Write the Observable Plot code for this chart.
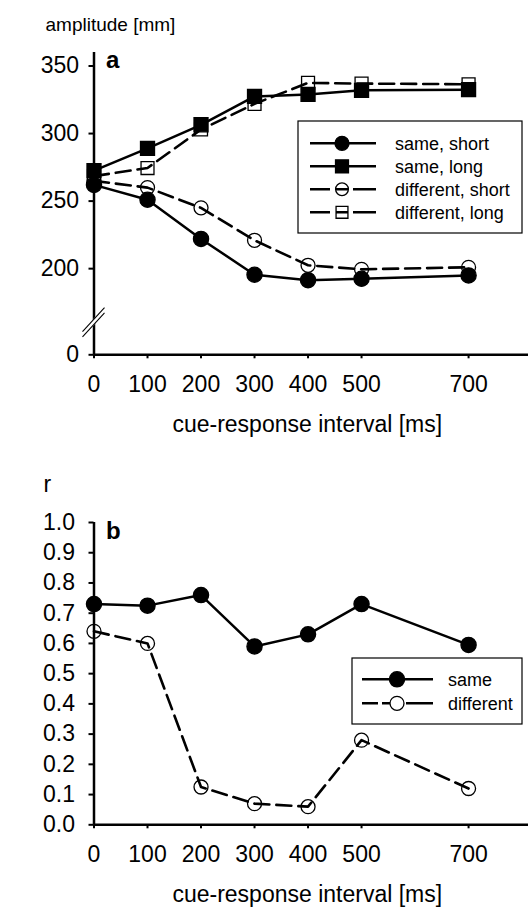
<!DOCTYPE html>
<html><head><meta charset="utf-8">
<script src="https://cdn.jsdelivr.net/npm/d3@7"></script>
<script src="https://cdn.jsdelivr.net/npm/@observablehq/plot@0.6"></script>
<style>
body{margin:0;background:#fff;}
#chart svg{display:block;}
</style>
</head><body><div id="chart"></div>
<script>
// ---- data ----
const intervals = [0, 100, 200, 300, 400, 500, 700];
const ampSameShort = [262, 251, 222, 195.5, 191.5, 192.5, 195];
const ampSameLong  = [272.5, 289, 306.5, 327.5, 329, 332, 332.5];
const ampDiffShort = [265, 260, 245, 221, 202.5, 199.5, 201];
const ampDiffLong  = [268.5, 274.5, 303, 322, 337.5, 337, 336.5];
const rSame = [0.73, 0.725, 0.76, 0.59, 0.63, 0.73, 0.595];
const rDiff = [0.64, 0.60, 0.125, 0.07, 0.06, 0.28, 0.12];
const ampTicks = [0, 200, 250, 300, 350];
const rTicks = [0, 0.1, 0.2, 0.3, 0.4, 0.5, 0.6, 0.7, 0.8, 0.9, 1.0];
const legendA = ["same, short", "same, long", "different, short", "different, long"];
const legendB = ["same", "different"];
const ampBreakValue = 160;

const FONT = "'Liberation Sans', Arial, Helvetica, sans-serif";
const rows = (vals) => intervals.map((x, i) => ({x, y: vals[i]}));
const DASH = "15,7";

function sym(type, r) { return d3.symbol(type === "square" ? d3.symbolSquare : d3.symbolCircle, Math.PI * r * r)(); }

function legendMark(items, styles, box, L) {
  return () => {
    const g = d3.create("svg:g");
    g.append("rect").attr("x", box.x).attr("y", box.y).attr("width", box.w).attr("height", box.h)
      .attr("fill", "white").attr("stroke", "black").attr("stroke-width", 1.2);
    items.forEach((label, i) => {
      const s = styles[i];
      const cy = L.y0 + i * L.dy;
      g.append("line").attr("x1", L.x1).attr("x2", L.x2).attr("y1", cy).attr("y2", cy)
        .attr("stroke", "black").attr("stroke-width", 2.6)
        .attr("stroke-dasharray", s.dashed ? L.dash : null);
      g.append("path").attr("d", sym(s.symbol, s.r)).attr("transform", `translate(${L.cx},${cy})`)
        .attr("fill", s.filled ? "black" : (L.openFill || "none")).attr("stroke", "black").attr("stroke-width", 1.3);
      g.append("text").attr("x", L.tx).attr("y", cy).attr("dy", "0.35em")
        .attr("text-anchor", "start")
        .attr("font-family", FONT).attr("font-size", 18).attr("fill", "black").text(label);
    });
    return g.node();
  };
}

function axisBreak(value) {
  return (index, scales) => {
    const x0 = scales.x(0), y0 = scales.y(value);
    const g = d3.create("svg:g");
    const dx = 11, dy = 12, off = 2.6;
    g.append("line").attr("x1", x0 - dx).attr("y1", y0 + dy).attr("x2", x0 + dx).attr("y2", y0 - dy)
      .attr("stroke", "white").attr("stroke-width", 4.5);
    for (const o of [-off, off]) {
      g.append("line").attr("x1", x0 - dx).attr("y1", y0 + dy + o).attr("x2", x0 + dx).attr("y2", y0 - dy + o)
        .attr("stroke", "black").attr("stroke-width", 1.1);
    }
    return g.node();
  };
}

const seriesA = [
  {vals: ampDiffShort, dashed: true, symbol: "circle", filled: false, r: 7},
  {vals: ampDiffLong, dashed: true, symbol: "square", filled: false, r: 7.3},
  {vals: ampSameShort, dashed: false, symbol: "circle", filled: true, r: 7.6},
  {vals: ampSameLong, dashed: false, symbol: "square", filled: true, r: 7.9}
];
function seriesMarks(list) {
  const m = [];
  for (const s of list) {
    m.push(Plot.line(rows(s.vals), {x: "x", y: "y", stroke: "black", strokeWidth: s.dashed ? 2.6 : 2.5, strokeDasharray: s.dashed ? DASH : null}));
  }
  for (const s of list) {
    m.push(Plot.dot(rows(s.vals), {x: "x", y: "y", symbol: s.symbol, r: s.r, fill: s.filled ? "black" : "none", stroke: "black", strokeWidth: 1.3}));
  }
  return m;
}

const TICKFONT = 23;
const common = {
  width: 528, marginLeft: 93.5, marginRight: 0,
  style: {fontFamily: FONT, fontSize: "22px", color: "black", background: "white", overflow: "visible"},
  x: {domain: [0, 812]}
};

const chartA = Plot.plot({
  ...common,
  height: 440, marginTop: 52, marginBottom: 85.7,
  y: {type: "linear", domain: [0, 150, 360], range: [354.3, 335.7, 52]},
  marks: [
    Plot.axisX({ticks: intervals, tickSize: 4, tickPadding: 17, fontSize: TICKFONT, strokeWidth: 2, label: null}),
    Plot.axisY({ticks: ampTicks, tickSize: 5, tickPadding: 10, fontSize: TICKFONT, strokeWidth: 2, label: null}),
    Plot.ruleX([0], {stroke: "black", strokeWidth: 2.5}),
    Plot.ruleY([0], {stroke: "black", strokeWidth: 2.5}),
    axisBreak(ampBreakValue),
    ...seriesMarks(seriesA),
    legendMark(legendA, [seriesA[2], seriesA[3], seriesA[0], seriesA[1]].map(s => ({...s, r: s.r - 0.6})),
      {x: 298, y: 121, w: 224, h: 112},
      {y0: 143.3, dy: 23, x1: 310, x2: 376, cx: 342, tx: 395, dash: "20,6,12,5,23"}),
    Plot.text(["a"], {frameAnchor: "top-left", dx: 12, dy: 15, lineAnchor: "bottom", textAnchor: "start", fontSize: 24, fontWeight: "bold"}),
    Plot.text(["amplitude [mm]"], {frameAnchor: "top-left", dx: -48.5, dy: -22, lineAnchor: "bottom", textAnchor: "start", fontSize: 19}),
    Plot.text(["cue-response interval [ms]"], {frameAnchor: "bottom", dx: -4, dy: 76.7, lineAnchor: "bottom", fontSize: 23})
  ]
});

const seriesB = [
  {vals: rDiff, dashed: true, symbol: "circle", filled: false, r: 7},
  {vals: rSame, dashed: false, symbol: "circle", filled: true, r: 7.6}
];

const chartB = Plot.plot({
  ...common,
  height: 468, marginTop: 82, marginBottom: 83.7,
  y: {domain: [0, 1]},
  marks: [
    Plot.axisX({ticks: intervals, tickSize: 4, tickPadding: 17, fontSize: TICKFONT, strokeWidth: 2, label: null}),
    Plot.axisY({ticks: rTicks, tickSize: 5, tickPadding: 14, fontSize: TICKFONT, strokeWidth: 2, tickFormat: d3.format(".1f"), label: null}),
    Plot.ruleX([0], {stroke: "black", strokeWidth: 2.5}),
    Plot.ruleY([0], {stroke: "black", strokeWidth: 2.5}),
    ...seriesMarks(seriesB),
    legendMark(legendB, [seriesB[1], seriesB[0]],
      {x: 352, y: 218, w: 170, h: 66},
      {y0: 239.3, dy: 24, x1: 362, x2: 433, cx: 397, tx: 448, dash: "16,4,8,16,27", openFill: "white"}),
    Plot.text(["b"], {frameAnchor: "top-left", dx: 12, dy: 16, lineAnchor: "bottom", textAnchor: "start", fontSize: 24, fontWeight: "bold"}),
    Plot.text(["r"], {frameAnchor: "top-left", dx: -50.5, dy: -31, lineAnchor: "bottom", textAnchor: "start", fontSize: 23}),
    Plot.text(["cue-response interval [ms]"], {frameAnchor: "bottom", dx: -4, dy: 76.7, lineAnchor: "bottom", fontSize: 23})
  ]
});

const root = document.getElementById("chart");
root.appendChild(chartA);
root.appendChild(chartB);
</script>
</body></html>
